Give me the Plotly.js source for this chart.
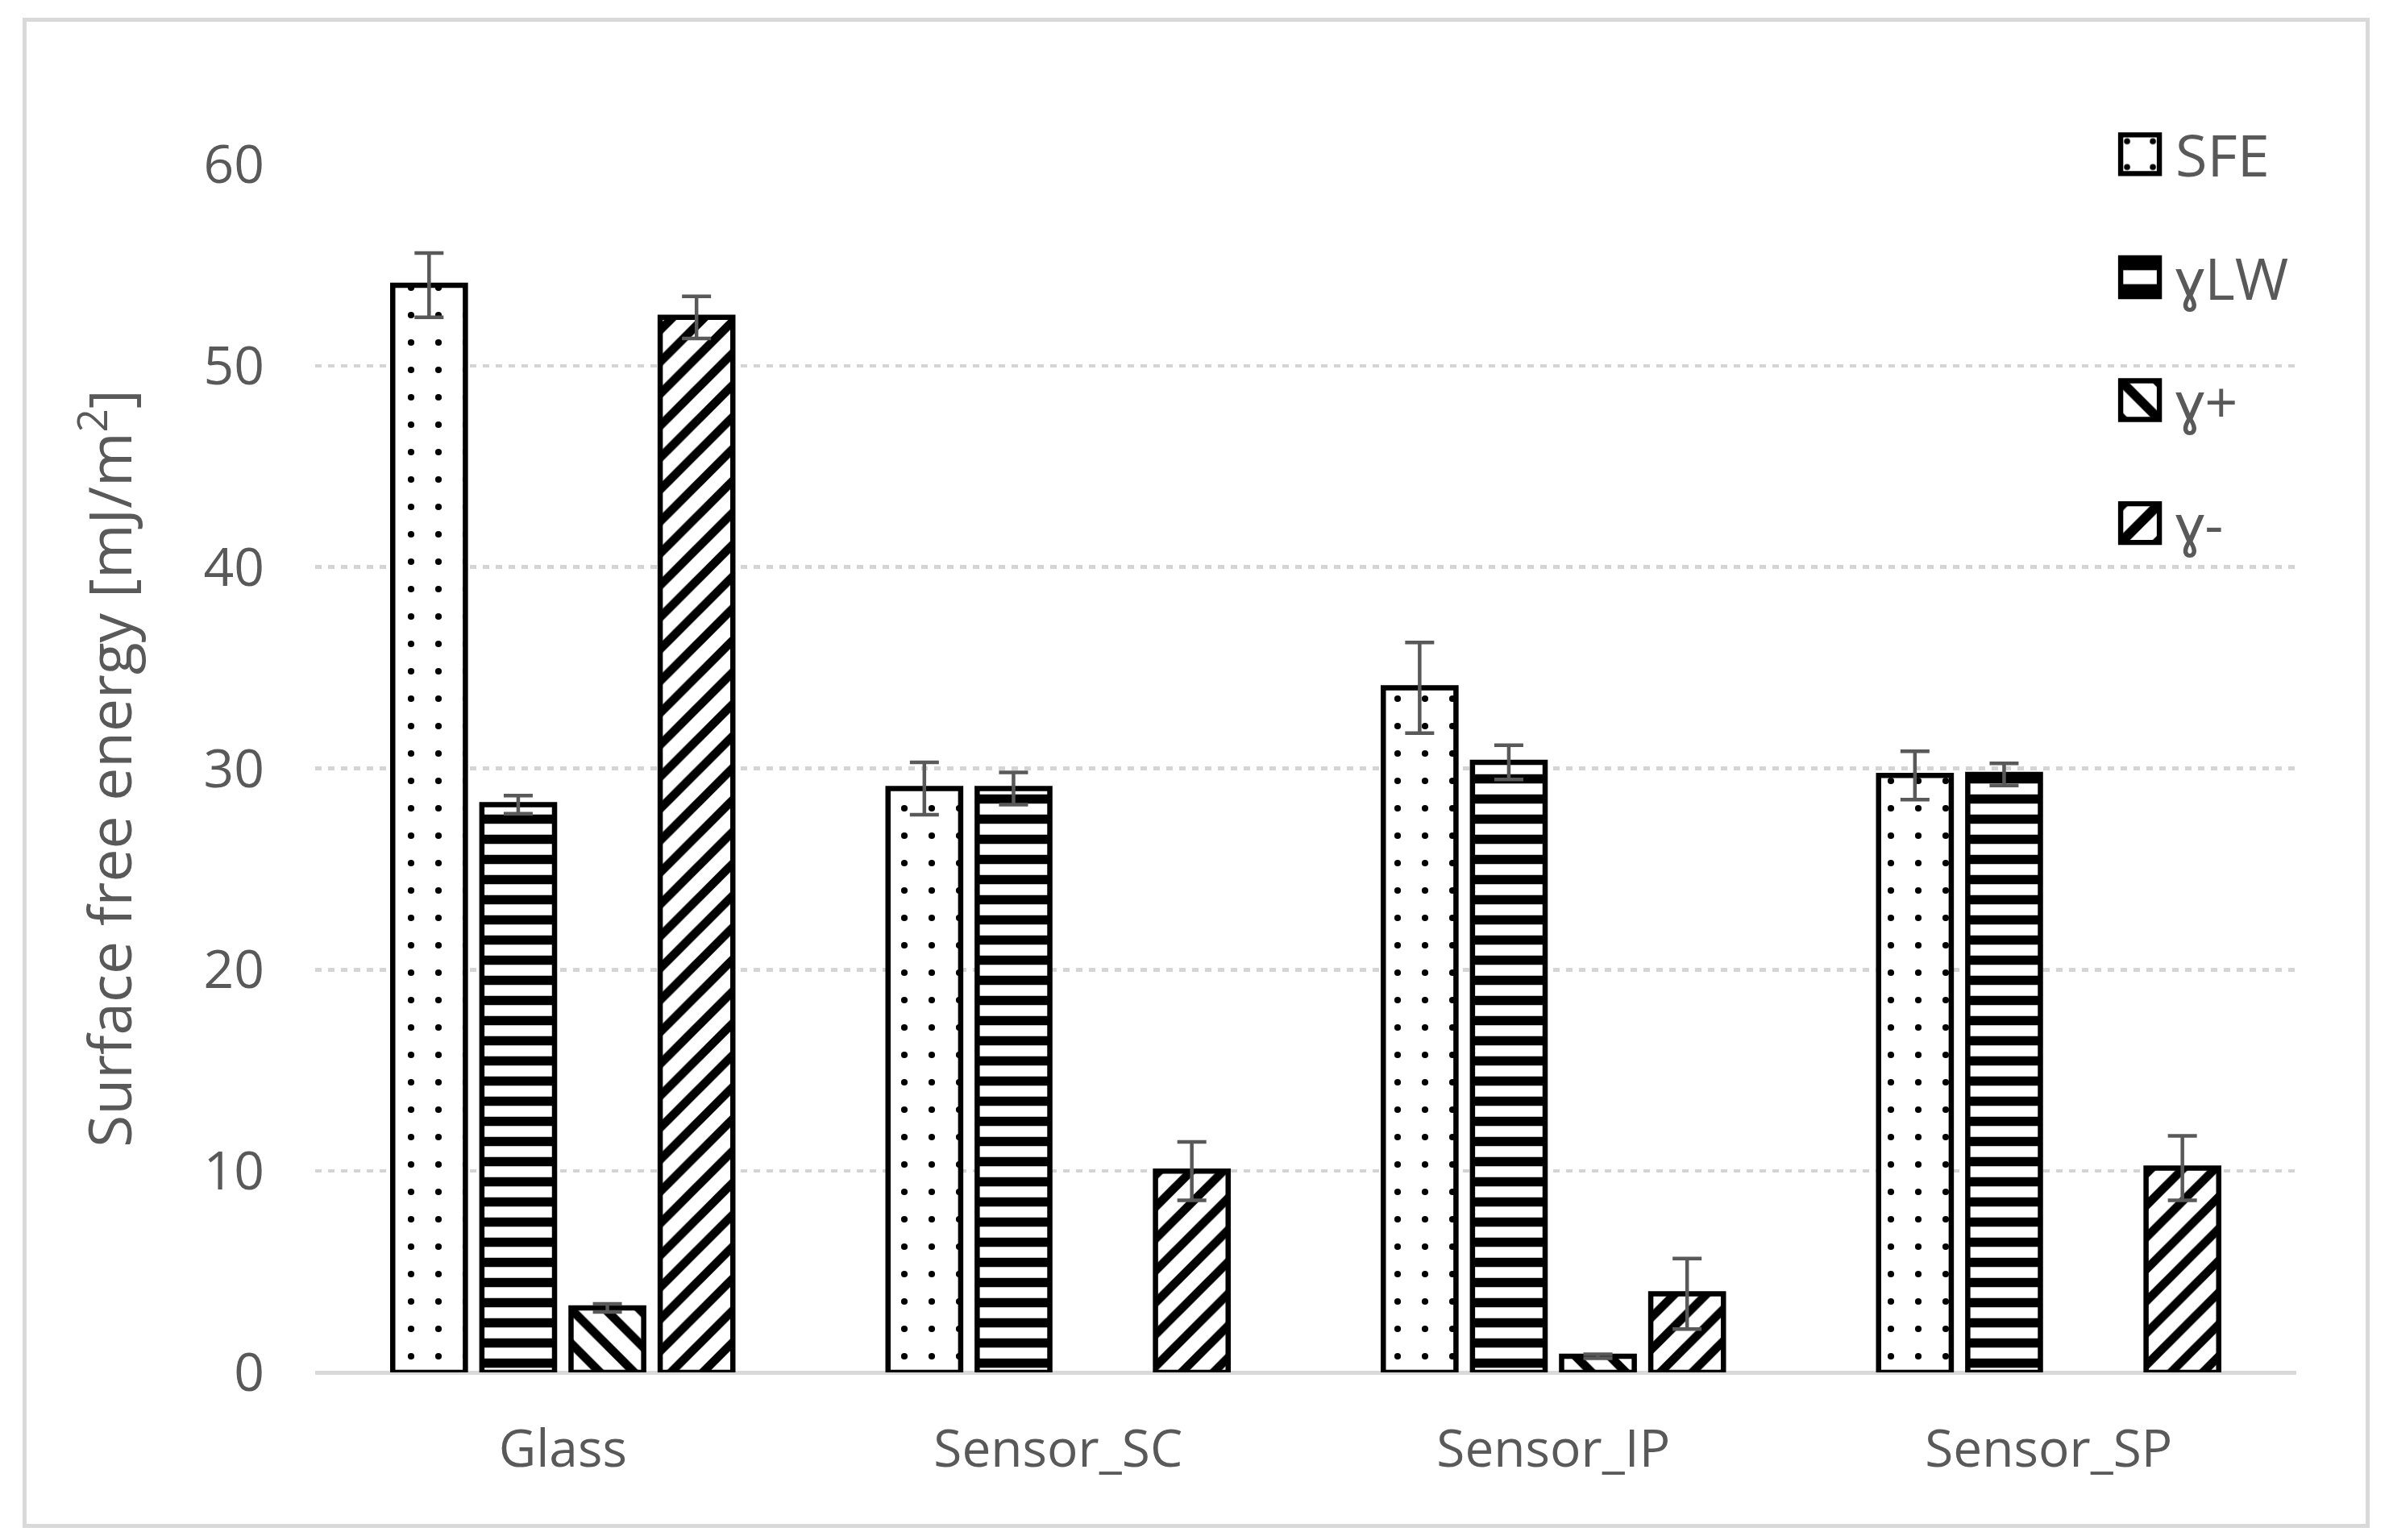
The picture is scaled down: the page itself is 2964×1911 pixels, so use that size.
<!DOCTYPE html>
<html>
<head>
<meta charset="utf-8">
<script src="https://cdn.plot.ly/plotly-3.0.1.min.js"></script>
<style>
  html, body { margin: 0; padding: 0; background: #ffffff; }
  #chart { width: 2964px; height: 1911px; }
  #frame { position: absolute; left: 28px; top: 22px; width: 2902px; height: 1864px;
           border: 5px solid #d9d9d9; pointer-events: none; }
</style>
</head>
<body>
<div id="chart"></div>
<div id="frame"></div>
<script>
// ---- data ----
const categories = ["Glass", "Sensor_SC", "Sensor_IP", "Sensor_SP"];
const seriesNames = ["SFE", "ɣLW", "ɣ+", "ɣ-"];
const sfeValues   = [54.0, 29.0, 34.0, 29.65];
const sfeErrors   = [1.6, 1.3, 2.25, 1.2];
const lwValues    = [28.2, 29.0, 30.3, 29.7];
const lwErrors    = [0.45, 0.8, 0.85, 0.55];
const plusValues  = [3.2, null, 0.8, null];
const plusErrors  = [0.2, null, 0.1, null];
const minusValues = [52.4, 10.0, 3.9, 10.15];
const minusErrors = [1.05, 1.45, 1.75, 1.6];
const yTickValues = [0, 10, 20, 30, 40, 50, 60];
const yTickLabels = ["0", "10", "20", "30", "40", "50", "60"];

// ---- styles ----
const gray = "#595959";
const patterns = [
  { shape: ".",  size: 34, solidity: 0.045 },
  { shape: "-",  size: 25, solidity: 0.46 },
  { shape: "\\", size: 30, solidity: 0.36 },
  { shape: "/",  size: 28, solidity: 0.38 }
];
const values = [sfeValues, lwValues, plusValues, minusValues];
const errors = [sfeErrors, lwErrors, plusErrors, minusErrors];

const traces = seriesNames.map((name, i) => ({
  type: "bar",
  name: name,
  legendgroup: "g" + i,
  x: categories,
  y: values[i],
  marker: {
    color: "#ffffff",
    line: { color: "#000000", width: 6.5 },
    pattern: Object.assign({ fgcolor: "#000000", bgcolor: "#ffffff", fillmode: "replace" }, patterns[i])
  },
  error_y: { type: "data", array: errors[i], visible: true, color: gray, thickness: 4.5, width: 18 }
}));

const layout = {
  width: 2964,
  height: 1911,
  paper_bgcolor: "#ffffff",
  plot_bgcolor: "#ffffff",
  margin: { l: 391, r: 115, t: 204, b: 208 },
  barmode: "group",
  bargap: 0.28,
  bargroupgap: 0.185,
  font: { family: "Open Sans, Noto Sans, sans-serif", color: gray },
  showlegend: true,
  legend: {
    x: 0.9146, xanchor: "left",
    y: 1.044, yanchor: "top",
    font: { size: 72, color: gray, family: "Open Sans, sans-serif" },
    traceorder: "grouped",
    tracegroupgap: 56,
    itemwidth: 50,
    bgcolor: "rgba(0,0,0,0)"
  },
  xaxis: {
    type: "category",
    range: [-0.5, 3.5],
    showgrid: false,
    showline: false,
    ticks: "",
    tickfont: { size: 64, color: gray },
    ticklabelstandoff: 52,
    fixedrange: true
  },
  yaxis: {
    range: [0, 60],
    tickvals: yTickValues,
    ticktext: yTickLabels,
    showgrid: true,
    gridcolor: "#d4d4d4",
    gridwidth: 4.5,
    griddash: "8px,8px",
    zeroline: true,
    zerolinecolor: "#d9d9d9",
    zerolinewidth: 5,
    showline: false,
    ticks: "",
    tickfont: { size: 66, color: gray },
    ticklabelstandoff: 62,
    title: {
      text: "Surface free energy [mJ/m<sup>2</sup>]",
      font: { size: 73, color: gray },
      standoff: 64
    },
    automargin: false,
    fixedrange: true
  }
};

Plotly.newPlot("chart", traces, layout, { staticPlot: true, displayModeBar: false }).then(function (gd) {
  // enlarge the legend swatches so they read like the reference's square keys
  gd.querySelectorAll(".legend [clip-path]").forEach(function (el) {
    el.removeAttribute("clip-path");
  });
  gd.querySelectorAll(".legend .legendpoints path").forEach(function (p) {
    p.setAttribute("transform", "translate(16,0) scale(4)");
    p.style.strokeWidth = "1.6px";
  });
});
</script>
</body>
</html>
